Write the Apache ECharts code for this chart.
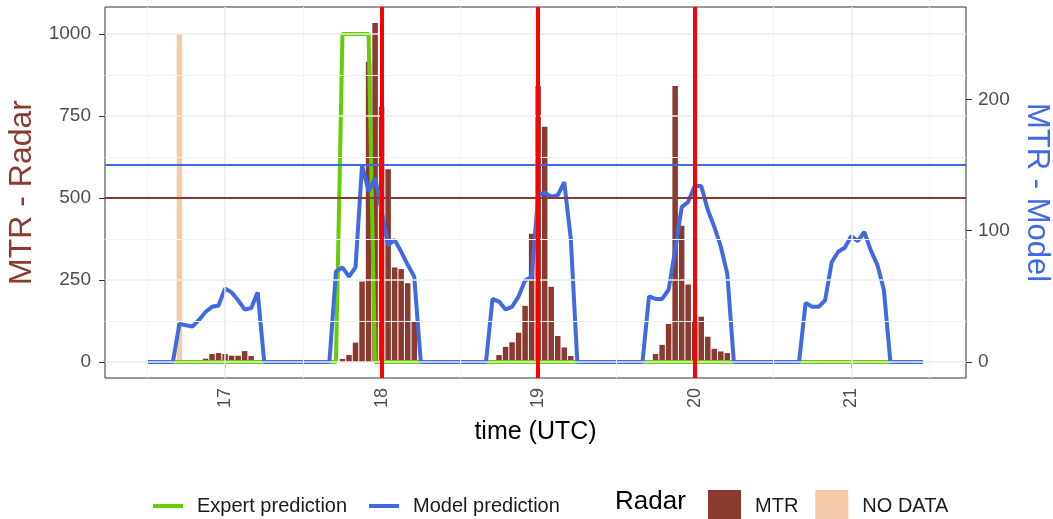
<!DOCTYPE html>
<html lang="en">
<head>
    <meta charset="UTF-8">
    <title>MTR - Radar vs Model</title>
    <script src="https://cdn.jsdelivr.net/npm/echarts@6/dist/echarts.min.js"></script>
    <style>
        body {
            margin: 0;
            background: #fff;
        }

        #chart {
            width: 1053px;
            height: 519px;
        }
    </style>
</head>
<body>
<div id="chart"></div>

<script>
    // time is kept in hours counted from day 16, 00:00 UTC
    const DAY0 = 16;

    // radar MTR, hourly bars
    const radarHours = [21, 22, 23, 24, 25, 26, 27, 28,
        42, 43, 44, 45, 46, 47, 48, 49, 50, 51, 52, 53,
        66, 67, 68, 69, 70, 71, 72, 73, 74, 75, 76, 77,
        90, 91, 92, 93, 94, 95, 96, 97, 98, 99, 100, 101];
    const radarMTR = [10, 24, 27, 24, 19, 19, 33, 18,
        9, 21, 59, 245, 915, 1033, 778, 587, 288, 283, 240, 123,
        21, 46, 60, 89, 171, 391, 841, 717, 229, 79, 44, 18,
        24, 52, 116, 841, 415, 236, 125, 138, 77, 40, 32, 27];

    // radar gap
    const noDataHours = [17];
    const noDataMTR = [1000];

    // model prediction (right axis)
    const modelHours = [12, 16, 17, 18, 19, 20, 21, 22, 23, 24, 25, 26, 27, 28, 29, 30,
        40, 41, 42, 43, 44, 45, 46, 47, 48, 49, 50, 51, 52, 53, 54,
        64, 65, 66, 67, 68, 69, 70, 71, 72, 73, 74, 75, 76, 77, 78,
        88, 89, 90, 91, 92, 93, 94, 95, 96, 97, 98, 99, 100, 101, 102,
        112, 113, 114, 115, 116, 117, 118, 119, 120, 121, 122, 123, 124, 125, 126, 131];
    const modelMTR = [0, 0, 29, 28, 27, 32, 38, 42, 43, 56, 53, 47, 40, 41, 53, 0,
        0, 69, 72, 65, 72, 150, 130, 140, 115, 89, 93, 84, 74, 65, 0,
        0, 48, 46, 40, 42, 50, 62, 65, 127, 129, 126, 127, 137, 94, 0,
        0, 50, 48, 48, 55, 85, 118, 122, 134, 134, 116, 103, 88, 67, 0,
        0, 45, 42, 42, 47, 76, 84, 87, 96, 92, 99, 85, 74, 55, 0, 0];

    // expert prediction (left axis), null = no prediction
    const expertHours = [16, 30, 35, 40, 41, 42, 46, 47, 54, 59, 64, 78, 83, 88, 102, 107, 112, 126];
    const expertMTR = [0, 0, null, 0, 0, 1000, 1000, 0, 0, null, 0, 0, null, 0, 0, null, 0, 0];

    const eventDays = [18, 19, 20];
    const radarThreshold = 500;
    const modelThreshold = 150;

    const dayTicks = [17, 18, 19, 20, 21];
    const radarTicks = [0, 250, 500, 750, 1000];
    const modelTicks = [0, 100, 200];
    const gridDays = [16.5, 17, 17.5, 18, 18.5, 19, 19.5, 20, 20.5, 21, 21.5];
    const gridRadar = [0, 125, 250, 375, 500, 625, 750, 875, 1000];

    const BROWN = '#8B3A2F';
    const BLUE = '#4169E1';
    const GREEN = '#66CD00';
    const FONT = '"Liberation Sans", Arial, sans-serif';

    const toDay = h => DAY0 + h / 24;
    const pairs = (hours, vals) => hours.map((h, i) => [toDay(h), vals[i] === null ? '-' : vals[i]]);
    const plain = v => String(v);

    const chart = echarts.init(document.getElementById('chart'));

    const gridLines = [].concat(
        gridDays.map(d => ({
            xAxis: d,
            lineStyle: {color: Number.isInteger(d) ? '#EBEBEB' : '#F3F3F3', width: Number.isInteger(d) ? 1.5 : 1, type: 'solid'}
        })),
        gridRadar.map(v => ({
            yAxis: v,
            lineStyle: {color: v % 250 === 0 ? '#EBEBEB' : '#F3F3F3', width: v % 250 === 0 ? 1.5 : 1, type: 'solid'}
        }))
    );

    const option = {
        animation: false,
        textStyle: {fontFamily: FONT},
        grid: {
            left: 105,
            right: 87,
            top: 7,
            bottom: 141,
            outerBoundsMode: 'none',
            containLabel: false,
            show: true,
            backgroundColor: '#fff',
            borderColor: '#333',
            borderWidth: 1
        },
        legend: [
            {
                data: ['Expert prediction', 'Model prediction'],
                left: 148,
                top: 491,
                icon: 'rect',
                itemWidth: 30,
                itemHeight: 4,
                itemGap: 22,
                textStyle: {fontSize: 20, color: '#1a1a1a', fontFamily: FONT, padding: [0, 0, 0, 9]}
            },
            {
                data: ['MTR', 'NO DATA'],
                left: 703,
                top: 485,
                icon: 'rect',
                itemWidth: 33,
                itemHeight: 33,
                itemGap: 17,
                textStyle: {fontSize: 20, color: '#1a1a1a', fontFamily: FONT, padding: [0, 0, 0, 9]}
            }
        ],
        graphic: [{
            type: 'text',
            left: 615,
            top: 489,
            style: {text: 'Radar', fontSize: 26, fill: '#000', font: '26px ' + FONT}
        }],
        xAxis: {
            type: 'value',
            min: 16.233,
            max: 21.733,
            axisLine: {show: false},
            axisTick: {show: true, length: 6, customValues: dayTicks, lineStyle: {color: '#333'}},
            axisLabel: {customValues: dayTicks, formatter: plain, rotate: 90, fontSize: 18, color: '#4D4D4D', margin: 10},
            splitLine: {show: false},
            name: 'time (UTC)',
            nameLocation: 'middle',
            nameGap: 42,
            nameTextStyle: {fontSize: 25, color: '#000'}
        },
        yAxis: [
            {
                type: 'value',
                min: -49,
                max: 1082,
                axisLine: {show: false},
                axisTick: {show: true, length: 6, customValues: radarTicks, lineStyle: {color: '#333'}},
                axisLabel: {customValues: radarTicks, formatter: plain, fontSize: 19, color: '#4D4D4D', margin: 14},
                splitLine: {show: false},
                name: 'MTR - Radar',
                nameLocation: 'middle',
                nameGap: 67,
                nameRotate: 90,
                nameTextStyle: {fontSize: 32, color: BROWN}
            },
            {
                type: 'value',
                min: -12.25,
                max: 270.5,
                position: 'right',
                axisLine: {show: false},
                axisTick: {show: true, length: 6, customValues: modelTicks, lineStyle: {color: '#333'}},
                axisLabel: {customValues: modelTicks, formatter: plain, fontSize: 19, color: '#4D4D4D', margin: 12},
                splitLine: {show: false},
                name: 'MTR - Model',
                nameLocation: 'middle',
                nameGap: 54,
                nameRotate: -90,
                nameTextStyle: {fontSize: 31, color: BLUE}
            }
        ],
        series: [
            {
                name: 'grid',
                type: 'line',
                data: [],
                z: 1,
                silent: true,
                markLine: {silent: true, symbol: ['none', 'none'], label: {show: false}, data: gridLines}
            },
            {
                name: 'MTR',
                type: 'bar',
                barWidth: 5.5,
                barGap: '-100%',
                itemStyle: {color: BROWN},
                data: pairs(radarHours, radarMTR),
                z: 2
            },
            {
                name: 'NO DATA',
                type: 'bar',
                barWidth: 5.5,
                barGap: '-100%',
                itemStyle: {color: '#F5CBA7'},
                data: pairs(noDataHours, noDataMTR),
                z: 2
            },
            {
                name: 'Expert prediction',
                type: 'line',
                showSymbol: false,
                connectNulls: false,
                lineStyle: {color: GREEN, width: 4},
                itemStyle: {color: GREEN},
                data: pairs(expertHours, expertMTR),
                z: 3
            },
            {
                name: 'Model prediction',
                type: 'line',
                yAxisIndex: 1,
                showSymbol: false,
                lineStyle: {color: BLUE, width: 4},
                itemStyle: {color: BLUE},
                data: pairs(modelHours, modelMTR),
                z: 4,
                markLine: {
                    silent: true,
                    symbol: ['none', 'none'],
                    label: {show: false},
                    lineStyle: {color: BLUE, width: 1.8, type: 'solid'},
                    data: [{yAxis: modelThreshold}]
                }
            },
            {
                name: 'radar threshold',
                type: 'line',
                data: [],
                z: 5,
                markLine: {
                    silent: true,
                    symbol: ['none', 'none'],
                    label: {show: false},
                    lineStyle: {color: BROWN, width: 1.8, type: 'solid'},
                    data: [{yAxis: radarThreshold}]
                }
            },
            {
                name: 'events',
                type: 'line',
                data: [],
                z: 6,
                markLine: {
                    silent: true,
                    symbol: ['none', 'none'],
                    label: {show: false},
                    lineStyle: {color: '#FF0000', width: 4, type: 'solid'},
                    data: eventDays.map(d => ({xAxis: d}))
                }
            }
        ]
    };

    chart.setOption(option);
    window.addEventListener('resize', chart.resize);
</script>
</body>
</html>
